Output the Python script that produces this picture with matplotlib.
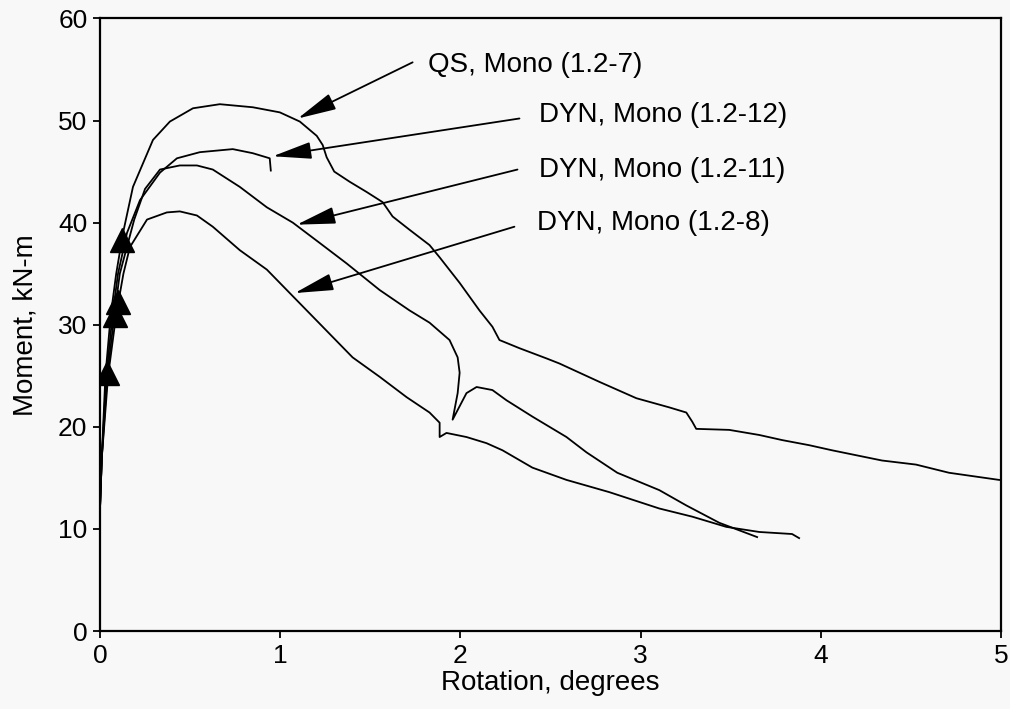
"""
Moment vs rotation curves for the QS / DYN monotonic tests.
Values read off the scanned figure.
"""

import matplotlib
matplotlib.use("Agg")
import matplotlib.pyplot as plt

plt.rcParams['font.family'] = ['Liberation Sans', 'DejaVu Sans']

# QS, Mono (1.2-7) ----------------------------------------------------------
qs7_x = [0.0, 0.01, 0.03, 0.06, 0.09, 0.128, 0.183, 0.294, 0.388, 0.516, 0.665,
         0.848, 0.998, 1.109, 1.203, 1.236, 1.258, 1.30, 1.386, 1.48, 1.569,
         1.624, 1.718, 1.829, 1.885, 1.996, 2.106, 2.178, 2.217, 2.328, 2.478,
         2.55, 2.661, 2.772, 2.977, 3.16, 3.254, 3.287, 3.309, 3.492, 3.659,
         3.786, 3.936, 4.063, 4.34, 4.529, 4.712, 4.99]
qs7_y = [12, 17, 25, 31, 35, 39, 43.5, 48.1, 49.9, 51.2, 51.6,
         51.3, 50.8, 49.9, 48.5, 47.6, 46.4, 45.0, 44.0, 43.0, 42.0,
         40.6, 39.3, 37.8, 36.6, 34.1, 31.4, 29.8, 28.5, 27.7, 26.7,
         26.2, 25.3, 24.4, 22.8, 21.9, 21.4, 20.5, 19.8, 19.7, 19.2,
         18.7, 18.2, 17.7, 16.7, 16.3, 15.5, 14.8]

# DYN, Mono (1.2-12)
dyn12_x = [0.0, 0.01, 0.035, 0.07, 0.1, 0.15, 0.222, 0.333, 0.427, 0.554,
           0.737, 0.848, 0.942, 0.948]
dyn12_y = [12, 17, 25, 31, 35, 39, 42.2, 44.9, 46.3, 46.9,
           47.2, 46.8, 46.3, 45.1]

# DYN, Mono (1.2-11)
dyn11_x = [0.0, 0.01, 0.04, 0.08, 0.11, 0.19, 0.25, 0.333, 0.443, 0.538,
           0.626, 0.776, 0.926, 1.070, 1.220, 1.369, 1.552, 1.718, 1.829,
           1.940, 1.985, 1.996, 1.985, 1.957, 2.034, 2.090, 2.178, 2.256,
           2.400, 2.589, 2.70, 2.871, 3.104, 3.254, 3.437, 3.647]
dyn11_y = [12, 17, 25, 31, 35, 40.3, 43.3, 45.2, 45.6, 45.6,
           45.2, 43.5, 41.5, 40.0, 38.0, 36.0, 33.4, 31.4, 30.2,
           28.5, 26.8, 25.3, 23.3, 20.7, 23.3, 23.9, 23.6, 22.6,
           21.0, 19.0, 17.5, 15.5, 13.8, 12.3, 10.6, 9.2]

# DYN, Mono (1.2-8)
dyn8_x = [0.0, 0.01, 0.045, 0.09, 0.13, 0.166, 0.261, 0.371, 0.443, 0.538,
          0.626, 0.776, 0.926, 1.092, 1.236, 1.402, 1.552, 1.702, 1.829,
          1.885, 1.885, 1.923, 2.034, 2.145, 2.234, 2.400, 2.589, 2.827,
          3.104, 3.287, 3.476, 3.659, 3.841, 3.880]
dyn8_y = [12, 17, 25, 31, 35, 37.6, 40.3, 41.0, 41.1, 40.7,
          39.6, 37.3, 35.4, 32.4, 29.8, 26.8, 24.9, 22.9, 21.4,
          20.4, 19.0, 19.4, 19.0, 18.4, 17.7, 16.0, 14.8, 13.6,
          12.0, 11.2, 10.2, 9.7, 9.5, 9.1]

# triangle markers near the origin
tri_x = [0.12, 0.10, 0.083, 0.04]
tri_y = [38.3, 32.2, 31.0, 25.3]

# annotation labels: text, text position, arrow tip
labels = ['QS, Mono (1.2-7)', 'DYN, Mono (1.2-12)',
          'DYN, Mono (1.2-11)', 'DYN, Mono (1.2-8)']
label_x = [1.818, 2.439, 2.439, 2.428]
label_y = [55.4, 50.5, 45.2, 40.0]
tail_x = [1.735, 2.328, 2.317, 2.300]
tail_y = [55.7, 50.2, 45.2, 39.6]
tip_x = [1.098, 0.959, 1.092, 1.081]
tip_y = [50.2, 46.5, 39.8, 33.1]

bg = '#f8f8f8'
fig = plt.figure(figsize=(10.1, 7.09), dpi=100, facecolor=bg)
ax = fig.add_axes([0.099, 0.110, 0.892, 0.864], facecolor=bg)

for xs, ys in [(qs7_x, qs7_y), (dyn12_x, dyn12_y),
               (dyn11_x, dyn11_y), (dyn8_x, dyn8_y)]:
    ax.plot(xs, ys, color='black', lw=1.3, solid_joinstyle='round')

ax.plot(tri_x, tri_y, linestyle='none', marker='^', ms=17, color='black')

for i in range(len(labels)):
    ax.text(label_x[i], label_y[i], labels[i], fontsize=20,
            ha='left', va='center')
    ax.annotate('', xy=(tip_x[i], tip_y[i]), xytext=(tail_x[i], tail_y[i]),
                arrowprops=dict(arrowstyle='-|>,head_length=1.6,head_width=0.35',
                                mutation_scale=15, color='black', lw=1.3,
                                shrinkA=0, shrinkB=0))

ax.set_xlim(0, 5)
ax.set_ylim(0, 60)
ax.set_xticks([0, 1, 2, 3, 4, 5])
ax.set_yticks([0, 10, 20, 30, 40, 50, 60])
ax.tick_params(direction='out', length=5, width=1.3, labelsize=19, pad=4)
ax.tick_params(top=False, right=False)
for s in ax.spines.values():
    s.set_linewidth(1.6)

ax.set_xlabel('Rotation, degrees', fontsize=20, labelpad=2)
ax.set_ylabel('Moment, kN-m', fontsize=20, labelpad=14)

plt.savefig('out.png', dpi=100, facecolor=bg)
